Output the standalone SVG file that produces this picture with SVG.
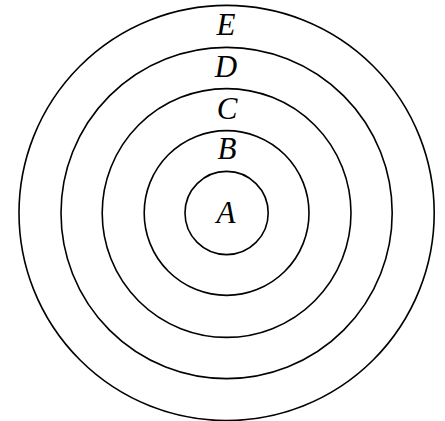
<svg xmlns="http://www.w3.org/2000/svg" width="445" height="421" viewBox="0 0 445 421">
<style>
.ring{fill:none;stroke:#000;stroke-width:1.6}
.lbl{font-family:"Liberation Serif","Times New Roman",serif;font-style:italic;font-size:31px;fill:#000;text-anchor:middle}
</style>
<rect width="445" height="421" fill="#fff"/>
<g id="E"><circle class="ring" cx="226.6" cy="213" r="207.6"/><text class="lbl" x="226" y="35">E</text></g>
<g id="D"><circle class="ring" cx="226.6" cy="213" r="165.6"/><text class="lbl" x="226" y="76.5">D</text></g>
<g id="C"><circle class="ring" cx="226.6" cy="213" r="124.4"/><text class="lbl" x="227" y="118.5">C</text></g>
<g id="B"><circle class="ring" cx="226.6" cy="213" r="82.4"/><text class="lbl" x="227" y="159">B</text></g>
<g id="A"><circle class="ring" cx="226.6" cy="213" r="41.6"/><text class="lbl" x="226" y="223">A</text></g>
<g id="connectors"></g>
</svg>
